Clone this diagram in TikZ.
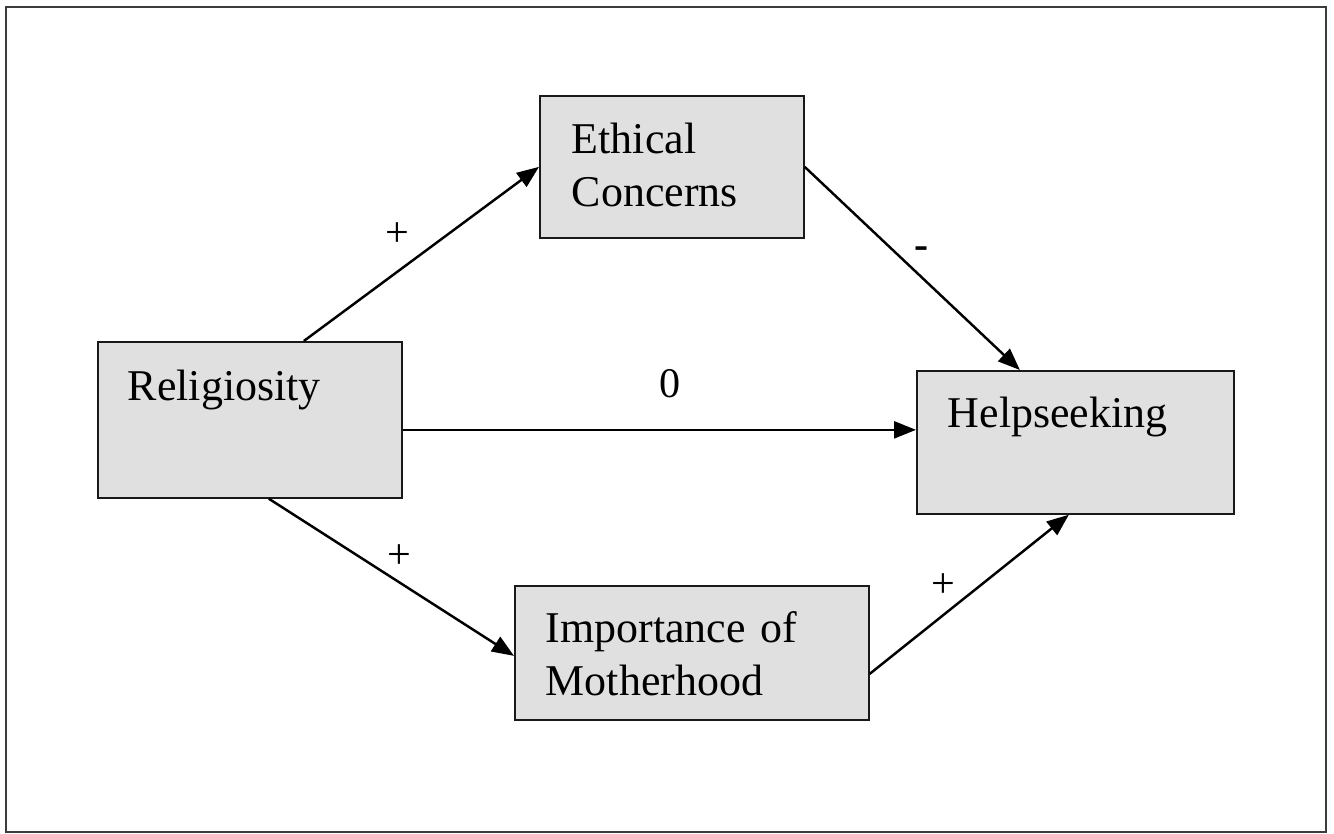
\documentclass[tikz,border=0pt]{standalone}
\usepackage{fontspec}
\setmainfont{Liberation Serif}
\usetikzlibrary{arrows.meta}
\definecolor{boxgray}{RGB}{224,224,224}
\definecolor{framegray}{RGB}{60,60,60}
\tikzset{
    box/.style = {draw=black!90, fill=boxgray, line width=1pt,
        anchor=north west, inner ysep=0pt, align=left,
        font=\fontsize{25}{30}\selectfont},
    arr/.style = {line width=1.4pt, -{Triangle[length=0.44cm,width=0.34cm]}},
    lbl/.style = {inner sep=0pt, font=\fontsize{24}{28}\selectfont}
}
\begin{document}
\begin{tikzpicture}[x=0.02cm, y=-0.02cm]
    \useasboundingbox (0,0) rectangle (1334,834);
    \draw[framegray, line width=1.6pt] (6,7) rectangle (1326,832);

    % boxes
    \node[box, inner xsep=0.64cm, text width=4cm,
        text height=1.16cm, text depth=1.68cm] (eth) at (539,95) {Ethical\\Concerns};
    \node[box, inner xsep=0.6cm, text width=4.88cm,
        text height=1.18cm, text depth=1.94cm] (rel) at (97,341) {Religiosity};
    \node[box, inner xsep=0.62cm, text width=5.1cm,
        text height=1.14cm, text depth=1.72cm] (help) at (916,370) {Helpseeking};
    \node[box, inner xsep=0.62cm, text width=5.84cm,
        text height=1.14cm, text depth=1.54cm] (mot) at (514,585) {Importance of\\Motherhood};

    % paths
    \draw[arr] ([xshift=1.08cm]rel.north) -- (eth.west)
        node[lbl, pos=.475, shift={(-18,-24)}] (s1) {+};
    \draw[arr] (eth.east) -- ([xshift=-1.11cm]help.north)
        node[lbl, pos=.485, shift={(12,-13)}] (s2) {\textbf{-}};
    \draw[arr] ([yshift=-0.2cm]rel.east) coordinate (r0) -- (r0 -| help.west)
        node[lbl, pos=.52, shift={(0,-46)}] (s3) {0};
    \draw[arr] ([xshift=0.38cm]rel.south) -- ([yshift=-0.06cm]mot.west)
        node[lbl, pos=.483, shift={(12,-18)}] (s4) {+};
    \draw[arr] ([yshift=-0.42cm]mot.east) -- ([xshift=-0.13cm]help.south)
        node[lbl, pos=.443, shift={(-15,-18)}] (s5) {+};
\end{tikzpicture}
\end{document}
